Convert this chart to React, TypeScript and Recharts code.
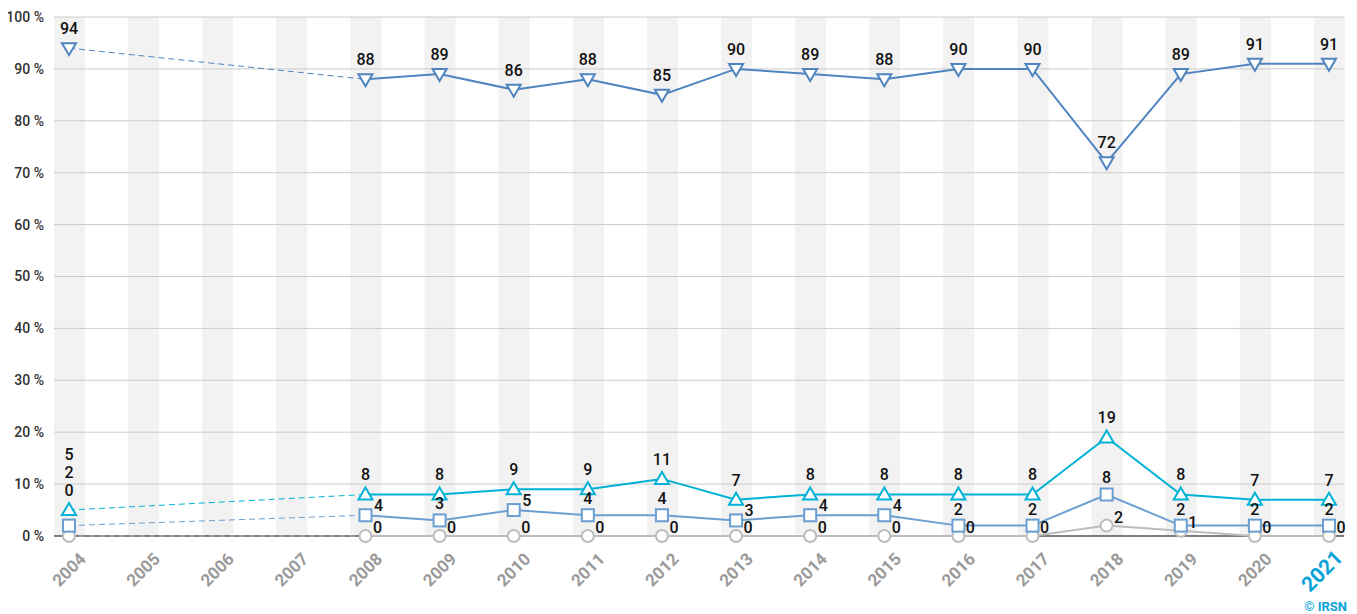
import React from 'react';
import { ComposedChart, Line, Bar, XAxis, YAxis, ReferenceLine, LabelList } from 'recharts';

const years = [2004, 2005, 2006, 2007, 2008, 2009, 2010, 2011, 2012, 2013, 2014, 2015, 2016, 2017, 2018, 2019, 2020, 2021];
const seriesHigh = [94, null, null, null, 88, 89, 86, 88, 85, 90, 89, 88, 90, 90, 72, 89, 91, 91];
const seriesMid = [5, null, null, null, 8, 8, 9, 9, 11, 7, 8, 8, 8, 8, 19, 8, 7, 7];
const seriesLow = [2, null, null, null, 4, 3, 5, 4, 4, 3, 4, 4, 2, 2, 8, 2, 2, 2];
const seriesZero = [0, null, null, null, 0, 0, 0, 0, 0, 0, 0, 0, 0, 0, 2, 1, 0, 0];
const yTicks = [0, 10, 20, 30, 40, 50, 60, 70, 80, 90, 100];
const bandValue = 100;

const C_HIGH = '#4f84bf';
const C_MID = '#00b2d6';
const C_LOW = '#6b9fd1';
const C_ZERO = '#bcbcbc';
const FONT = 'Roboto, "Noto Sans", sans-serif';

const table = years.map((y, i) => ({
  year: y,
  band: bandValue,
  high: seriesHigh[i],
  mid: seriesMid[i],
  low: seriesLow[i],
  zero: seriesZero[i],
}));

// dashed bridge over the gap: first point and first point after the gap
const bridge = (arr: (number | null)[], key: string) => {
  const first = arr.findIndex((v) => v != null);
  let next = first + 1;
  while (next < arr.length && arr[next] == null) next++;
  return [
    { year: years[first], [key]: arr[first] },
    { year: years[next], [key]: arr[next] },
  ];
};

const triDown = (color: string) => (p: any) => {
  const { cx, cy, index } = p;
  if (cx == null || cy == null || p.value == null) return <g key={`td${index}`} />;
  return (
    <path key={`td${index}`} d={`M${cx - 7},${cy - 5} L${cx + 7},${cy - 5} L${cx},${cy + 7} Z`} fill="#fff" stroke={color} strokeWidth={2} />
  );
};
const triUp = (color: string) => (p: any) => {
  const { cx, cy, index } = p;
  if (cx == null || cy == null || p.value == null) return <g key={`tu${index}`} />;
  return (
    <path key={`tu${index}`} d={`M${cx - 7},${cy + 5} L${cx + 7},${cy + 5} L${cx},${cy - 7} Z`} fill="#fff" stroke={color} strokeWidth={2} />
  );
};
const square = (color: string) => (p: any) => {
  const { cx, cy, index } = p;
  if (cx == null || cy == null || p.value == null) return <g key={`sq${index}`} />;
  return <rect key={`sq${index}`} x={cx - 6} y={cy - 6} width={12} height={12} fill="#fff" stroke={color} strokeWidth={2} />;
};
const circle = (color: string) => (p: any) => {
  const { cx, cy, index } = p;
  if (cx == null || cy == null || p.value == null) return <g key={`ci${index}`} />;
  return <circle key={`ci${index}`} cx={cx} cy={cy} r={6} fill="#fff" stroke={color} strokeWidth={2} />;
};

const txt = (x: number, y: number, v: any, key: string) => (
  <text key={key} x={x} y={y} textAnchor="middle" fontFamily={FONT} fontWeight={500} fontSize={16} fill="#111">
    {v}
  </text>
);

const labelHigh = (p: any) => {
  const { x, y, value, index } = p;
  if (value == null || x == null || y == null) return null;
  return txt(x, y - 14, value, `lh${index}`);
};
const labelMid = (p: any) => {
  const { x, y, value, index } = p;
  if (value == null || x == null || y == null) return null;
  if (index === 0) return txt(x, y - 50, value, `lm${index}`);
  return txt(x, y - 14, value, `lm${index}`);
};
const labelLow = (p: any) => {
  const { x, y, value, index } = p;
  if (value == null || x == null || y == null) return null;
  if (index === 0) return txt(x, y - 48, value, `ll${index}`);
  const gap = (seriesMid[index] ?? 0) - value;
  if (gap <= 4) return txt(x + 13, y - 4, value, `ll${index}`);
  return txt(x, y - 11, value, `ll${index}`);
};
const labelZero = (p: any) => {
  const { x, y, value, index } = p;
  if (value == null || x == null || y == null) return null;
  if (index === 0) return txt(x, y - 40, value, `lz${index}`);
  return txt(x + 12, y - 3, value, `lz${index}`);
};

const YearTick = (p: any) => {
  const { x, y, payload } = p;
  const last = payload.value === years[years.length - 1];
  const ax = x + (last ? 15 : 18);
  const ay = y + (last ? 15 : 16);
  return (
    <text
      x={ax}
      y={ay}
      textAnchor="end"
      transform={`rotate(-45, ${ax}, ${ay})`}
      fontFamily={FONT}
      fontWeight={700}
      fontSize={last ? 21 : 17}
      fill={last ? '#0aa3d9' : '#9a9a9a'}
    >
      {payload.value}
    </text>
  );
};

export default function App() {
  return (
    <div style={{ position: 'relative', width: 1357, height: 606, marginLeft: -8 }}>
      <ComposedChart width={1357} height={606} data={table} margin={{ top: 9, right: 13, left: 8, bottom: 18 }}>
        <XAxis
          dataKey="year"
          type="number"
          domain={[years[0], years[years.length - 1]]}
          ticks={years}
          interval={0}
          padding={{ left: 15, right: 15 }}
          axisLine={false}
          tickLine={false}
          tick={<YearTick />}
          height={60}
        />
        <YAxis
          domain={[0, 100]}
          ticks={yTicks}
          axisLine={false}
          tickLine={false}
          width={46}
          tickMargin={4}
          tickFormatter={(v: number) => `${v}\u00a0%`}
          tick={{ fontFamily: FONT, fontWeight: 500, fontSize: 14, fill: '#333' }}
        />
        <Bar dataKey="band" barSize={31} fill="#f2f2f2" isAnimationActive={false} />
        {yTicks.filter((t) => t > 0).map((t) => (
          <ReferenceLine key={t} y={t} stroke="#cccccc" strokeWidth={1} />
        ))}
        <ReferenceLine y={0} stroke="#000" strokeWidth={1} />
        <Line data={bridge(seriesZero, 'zero')} dataKey="zero" stroke="#999" strokeWidth={2} strokeDasharray="6 4" dot={false} isAnimationActive={false} />
        <Line data={bridge(seriesLow, 'low')} dataKey="low" stroke={C_LOW} strokeWidth={1} strokeDasharray="6 4" dot={false} isAnimationActive={false} />
        <Line data={bridge(seriesMid, 'mid')} dataKey="mid" stroke={C_MID} strokeWidth={1} strokeDasharray="6 4" dot={false} isAnimationActive={false} />
        <Line data={bridge(seriesHigh, 'high')} dataKey="high" stroke={C_HIGH} strokeWidth={1} strokeDasharray="6 4" dot={false} isAnimationActive={false} />
        <Line dataKey="zero" stroke={C_ZERO} strokeWidth={2} dot={circle(C_ZERO)} isAnimationActive={false}>
          <LabelList dataKey="zero" content={labelZero} />
        </Line>
        <Line dataKey="low" stroke={C_LOW} strokeWidth={2} dot={square(C_LOW)} isAnimationActive={false}>
          <LabelList dataKey="low" content={labelLow} />
        </Line>
        <Line dataKey="mid" stroke={C_MID} strokeWidth={2} dot={triUp(C_MID)} isAnimationActive={false}>
          <LabelList dataKey="mid" content={labelMid} />
        </Line>
        <Line dataKey="high" stroke={C_HIGH} strokeWidth={2} dot={triDown(C_HIGH)} isAnimationActive={false}>
          <LabelList dataKey="high" content={labelHigh} />
        </Line>
      </ComposedChart>
      <div
        style={{
          position: 'absolute',
          top: 591,
          right: 10,
          fontFamily: FONT,
          fontWeight: 700,
          fontSize: 13,
          lineHeight: '15px',
          color: '#0aa3d9',
        }}
      >
        © IRSN
      </div>
    </div>
  );
}
